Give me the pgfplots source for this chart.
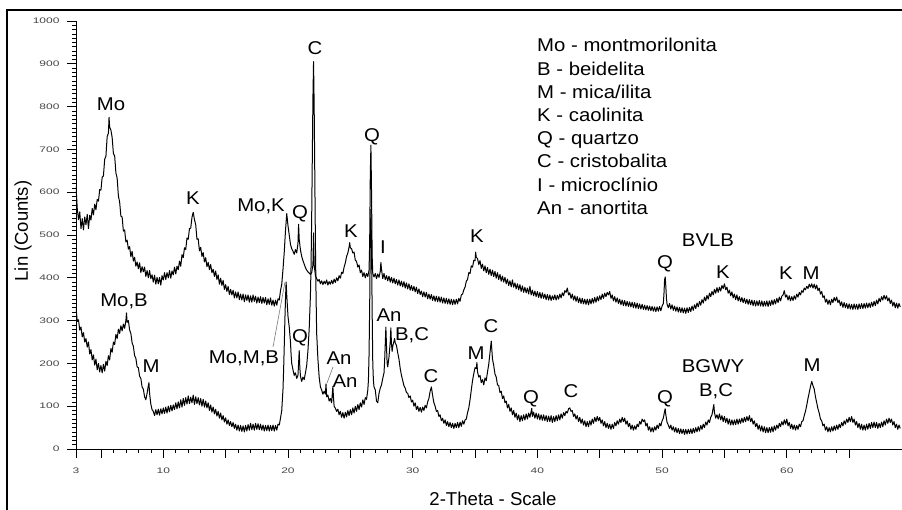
\documentclass[border=0pt]{standalone}
\usepackage{fontspec}
\setmainfont{Liberation Sans}
\usepackage{pgfplots}
\pgfplotsset{compat=1.18}
\newfontfamily\labfont[FakeStretch=1.1]{Liberation Sans}
\newfontfamily\tickfont[FakeStretch=1.5]{Liberation Sans}
\definecolor{tickgray}{RGB}{70,70,70}
\definecolor{leadgray}{RGB}{120,120,120}
\tikzset{lab/.style={font=\labfont\fontsize{18.5}{22}\selectfont, inner sep=0pt, anchor=base}}

\begin{document}
\begin{tikzpicture}
\useasboundingbox (0,0) rectangle (902pt,509pt);
\begin{axis}[
  at={(76pt,60pt)}, anchor=south west,
  scale only axis, width=825.5pt, height=428pt,
  xmin=3, xmax=69.2, ymin=0, ymax=1000,
  axis x line*=bottom, axis y line*=left,
  axis line style={black, line width=0.8pt, -},
  xtick={5,10,...,65},
  xticklabels={,10,,20,,30,,40,,50,,60,},
  extra x ticks={3}, extra x tick labels={3},
  minor x tick num=4,
  ytick={0,100,...,1000}, minor y tick num=9,
  tick align=outside, major tick length=9pt, minor tick length=4pt,
  tick style={black, line width=0.6pt},
  /pgf/number format/assume math mode=true,
  /pgf/number format/1000 sep={},
  ticklabel style={font=\tickfont\fontsize{8}{9}\selectfont, text=tickgray},
  xticklabel style={yshift=-6pt},
  yticklabel style={xshift=-4pt},
]
% BVLB
\addplot[black, line width=1.0pt, line join=round, mark=none] coordinates {
(3.0,615)(3.1,562)(3.2,536)(3.3,554)(3.4,515)(3.5,538)(3.6,512)(3.7,542)(3.8,524)(3.9,548)
(4.0,515)(4.1,546)(4.2,535)(4.3,562)(4.4,547)(4.5,572)(4.6,559)(4.7,583)(4.8,579)(4.9,606)
(5.0,605)(5.1,635)(5.2,638)(5.3,677)(5.4,684)(5.5,730)(5.6,738)(5.65,775)(5.7,752)(5.8,745)(5.9,728)
(6.0,690)(6.1,685)(6.2,645)(6.3,633)(6.4,591)(6.5,577)(6.6,544)(6.7,542)(6.8,509)(6.9,512)
(7.0,484)(7.1,488)(7.2,467)(7.3,473)(7.4,449)(7.5,462)(7.6,439)(7.7,448)(7.8,427)(7.9,437)
(8.0,421)(8.1,435)(8.2,412)(8.3,426)(8.4,414)(8.5,425)(8.6,403)(8.7,417)(8.8,400)(8.9,417)
(9.0,398)(9.1,407)(9.2,390)(9.3,406)(9.4,385)(9.5,401)(9.6,386)(9.7,401)(9.8,383)(9.9,405)
(10.0,395)(10.1,412)(10.2,396)(10.3,412)(10.4,400)(10.5,417)(10.6,399)(10.7,416)(10.8,407)(10.9,425)
(11.0,409)(11.1,427)(11.2,419)(11.3,439)(11.4,427)(11.5,454)(11.6,447)(11.7,470)(11.8,466)(11.9,493)
(12.0,490)(12.1,515)(12.2,516)(12.3,541)(12.4,553)(12.5,536)(12.6,524)(12.7,490)(12.8,491)(12.9,463)
(13.0,471)(13.1,450)(13.2,459)(13.3,437)(13.4,447)(13.5,426)(13.6,436)(13.7,419)(13.8,431)(13.9,412)
(14.0,420)(14.1,403)(14.2,416)(14.3,396)(14.4,407)(14.5,385)(14.6,399)(14.7,382)(14.8,394)(14.9,373)
(15.0,384)(15.1,368)(15.2,380)(15.3,361)(15.4,373)(15.5,360)(15.6,371)(15.7,353)(15.8,367)(15.9,353)
(16.0,367)(16.1,349)(16.2,362)(16.3,348)(16.4,362)(16.5,344)(16.6,360)(16.7,347)(16.8,360)(16.9,343)
(17.0,358)(17.1,343)(17.2,360)(17.3,345)(17.4,357)(17.5,341)(17.6,355)(17.7,342)(17.8,356)(17.9,340)
(18.0,354)(18.1,341)(18.2,354)(18.3,337)(18.4,351)(18.5,338)(18.6,353)(18.7,336)(18.8,348)(18.9,334)
(19.0,348)(19.1,336)(19.2,351)(19.3,348)(19.4,370)(19.5,385)(19.6,420)(19.7,460)(19.8,510)(19.9,550)
(20.0,522)(20.1,500)(20.2,478)(20.3,468)(20.4,462)(20.5,455)(20.6,466)(20.7,458)(20.8,480)(20.85,525)(20.9,490)
(21.0,465)(21.1,450)(21.2,440)(21.3,432)(21.4,424)(21.5,418)(21.6,414)(21.7,411)(21.8,408)(21.9,412)
(22.0,430)(22.05,505)(22.1,430)(22.2,405)(22.3,398)(22.4,392)(22.5,396)(22.6,386)(22.7,393)(22.8,384)(22.9,392)
(23.0,386)(23.1,395)(23.2,383)(23.3,391)(23.4,385)(23.5,394)(23.6,386)(23.7,397)(23.8,389)(23.9,400)
(24.0,393)(24.1,405)(24.2,399)(24.3,413)(24.4,410)(24.5,425)(24.6,435)(24.7,450)(24.8,458)(24.9,472)(24.95,482)
(25.0,470)(25.1,468)(25.2,458)(25.3,460)(25.4,441)(25.5,438)(25.6,425)(25.7,430)(25.8,412)(25.9,418)
(26.0,403)(26.1,412)(26.2,400)(26.3,410)(26.4,403)(26.5,418)(26.55,480)(26.6,640)(26.65,710)(26.7,600)(26.75,450)(26.8,410)(26.9,402)
(27.0,410)(27.1,398)(27.2,409)(27.3,401)(27.4,415)(27.45,436)(27.5,420)(27.6,398)(27.7,410)(27.8,396)(27.9,405)
(28.0,393)(28.1,404)(28.2,390)(28.3,401)(28.4,388)(28.5,399)(28.6,386)(28.7,396)(28.8,383)(28.9,395)
(29.0,381)(29.1,392)(29.2,379)(29.3,391)(29.4,376)(29.5,388)(29.6,374)(29.7,386)(29.8,371)(29.9,382)
(30.0,370)(30.1,380)(30.2,367)(30.3,378)(30.4,363)(30.5,374)(30.6,361)(30.7,369)(30.8,356)(30.9,367)
(31.0,355)(31.1,366)(31.2,351)(31.3,362)(31.4,350)(31.5,361)(31.6,347)(31.7,358)(31.8,345)(31.9,357)
(32.0,344)(32.1,356)(32.2,343)(32.3,355)(32.4,341)(32.5,353)(32.6,340)(32.7,352)(32.8,339)(32.9,351)
(33.0,338)(33.1,350)(33.2,337)(33.3,349)(33.4,338)(33.5,350)(33.6,339)(33.7,352)(33.8,345)(33.9,360)
(34.0,362)(34.1,372)(34.2,378)(34.3,392)(34.4,396)(34.5,412)(34.6,410)(34.7,428)(34.8,425)(34.9,441)
(35.0,440)(35.05,460)(35.1,448)(35.2,445)(35.3,431)(35.4,440)(35.5,422)(35.6,432)(35.7,416)(35.8,428)(35.9,412)
(36.0,424)(36.1,408)(36.2,420)(36.3,405)(36.4,418)(36.5,403)(36.6,415)(36.7,399)(36.8,412)(36.9,396)
(37.0,408)(37.1,392)(37.2,404)(37.3,390)(37.4,401)(37.5,386)(37.6,397)(37.7,382)(37.8,393)(37.9,379)
(38.0,395)(38.1,378)(38.2,388)(38.3,374)(38.4,386)(38.5,372)(38.6,384)(38.7,368)(38.8,381)(38.9,366)
(39.0,378)(39.1,365)(39.2,376)(39.3,362)(39.4,380)(39.5,360)(39.6,371)(39.7,358)(39.8,369)(39.9,356)
(40.0,368)(40.1,354)(40.2,366)(40.3,352)(40.4,365)(40.5,352)(40.6,362)(40.7,349)(40.8,361)(40.9,348)
(41.0,360)(41.1,347)(41.2,358)(41.3,349)(41.4,360)(41.5,348)(41.6,359)(41.7,350)(41.8,362)(41.9,353)
(42.0,365)(42.1,358)(42.2,370)(42.3,366)(42.4,376)(42.5,360)(42.6,365)(42.7,352)(42.8,362)(42.9,348)
(43.0,358)(43.1,345)(43.2,356)(43.3,342)(43.4,353)(43.5,340)(43.6,352)(43.7,339)(43.8,350)(43.9,338)
(44.0,350)(44.1,337)(44.2,350)(44.3,339)(44.4,352)(44.5,341)(44.6,354)(44.7,343)(44.8,356)(44.9,346)
(45.0,358)(45.1,349)(45.2,362)(45.3,352)(45.4,364)(45.5,356)(45.6,366)(45.7,360)(45.8,368)(45.9,352)
(46.0,360)(46.1,346)(46.2,356)(46.3,343)(46.4,353)(46.5,340)(46.6,350)(46.7,337)(46.8,348)(46.9,335)
(47.0,347)(47.1,334)(47.2,345)(47.3,333)(47.4,344)(47.5,332)(47.6,343)(47.7,330)(47.8,342)(47.9,329)
(48.0,341)(48.1,328)(48.2,339)(48.3,327)(48.4,338)(48.5,326)(48.6,336)(48.7,325)(48.8,335)(48.9,324)
(49.0,334)(49.1,323)(49.2,333)(49.3,322)(49.4,332)(49.5,321)(49.6,332)(49.7,322)(49.8,333)(49.9,323)
(50.0,334)(50.1,340)(50.15,362)(50.2,395)(50.25,402)(50.3,380)(50.35,352)(50.4,338)(50.5,330)(50.6,340)(50.7,327)(50.8,337)(50.9,324)
(51.0,334)(51.1,322)(51.2,332)(51.3,320)(51.4,331)(51.5,319)(51.6,330)(51.7,318)(51.8,329)(51.9,317)
(52.0,330)(52.1,319)(52.2,331)(52.3,321)(52.4,334)(52.5,324)(52.6,337)(52.7,328)(52.8,341)(52.9,332)
(53.0,345)(53.1,336)(53.2,349)(53.3,341)(53.4,355)(53.5,346)(53.6,359)(53.7,350)(53.8,364)(53.9,356)
(54.0,368)(54.1,360)(54.2,373)(54.3,364)(54.4,377)(54.5,366)(54.6,378)(54.7,369)(54.8,382)(54.9,375)
(55.0,386)(55.1,372)(55.2,378)(55.3,364)(55.4,371)(55.5,358)(55.6,367)(55.7,353)(55.8,362)(55.9,349)
(56.0,360)(56.1,346)(56.2,356)(56.3,344)(56.4,354)(56.5,342)(56.6,352)(56.7,340)(56.8,350)(56.9,338)
(57.0,349)(57.1,337)(57.2,348)(57.3,335)(57.4,347)(57.5,334)(57.6,346)(57.7,335)(57.8,347)(57.9,334)
(58.0,346)(58.1,333)(58.2,345)(58.3,334)(58.4,346)(58.5,333)(58.6,346)(58.7,335)(58.8,348)(58.9,337)
(59.0,349)(59.1,339)(59.2,352)(59.3,342)(59.4,355)(59.5,346)(59.6,357)(59.7,360)(59.8,370)(59.9,355)
(60.0,360)(60.1,348)(60.2,358)(60.3,346)(60.4,356)(60.5,347)(60.6,358)(60.7,350)(60.8,362)(60.9,355)
(61.0,366)(61.1,360)(61.2,370)(61.3,366)(61.4,376)(61.5,372)(61.6,380)(61.7,375)(61.8,385)(61.9,378)
(62.0,386)(62.1,376)(62.2,385)(62.3,374)(62.4,383)(62.5,370)(62.6,376)(62.7,362)(62.8,368)(62.9,354)
(63.0,358)(63.1,343)(63.2,350)(63.3,338)(63.4,348)(63.5,337)(63.6,350)(63.7,342)(63.8,354)(63.9,346)
(64.0,355)(64.1,342)(64.2,348)(64.3,335)(64.4,344)(64.5,331)(64.6,342)(64.7,330)(64.8,340)(64.9,328)
(65.0,339)(65.1,327)(65.2,338)(65.3,326)(65.4,339)(65.5,327)(65.6,338)(65.7,326)(65.8,339)(65.9,328)
(66.0,340)(66.1,328)(66.2,340)(66.3,329)(66.4,341)(66.5,330)(66.6,341)(66.7,331)(66.8,343)(66.9,333)
(67.0,345)(67.1,335)(67.2,348)(67.3,339)(67.4,352)(67.5,344)(67.6,356)(67.7,348)(67.8,359)(67.9,350)
(68.0,358)(68.1,346)(68.2,353)(68.3,340)(68.4,348)(68.5,334)(68.6,343)(68.7,330)(68.8,341)(68.9,329)
(69.0,340)(69.1,332)
};
% BGWY
\addplot[black, line width=1.0pt, line join=round, mark=none] coordinates {
(3.0,332)(3.1,298)(3.2,302)(3.3,278)(3.4,285)(3.5,262)(3.6,272)(3.7,250)(3.8,258)(3.9,238)
(4.0,250)(4.1,222)(4.2,232)(4.3,208)(4.4,220)(4.5,196)(4.6,210)(4.7,185)(4.8,200)(4.9,180)
(5.0,195)(5.1,178)(5.2,198)(5.3,182)(5.4,205)(5.5,195)(5.6,218)(5.7,208)(5.8,235)(5.9,226)
(6.0,250)(6.1,244)(6.2,268)(6.3,258)(6.4,280)(6.5,270)(6.6,288)(6.7,276)(6.8,292)(6.9,282)
(7.0,300)(7.05,318)(7.1,296)(7.2,300)(7.3,278)(7.4,270)(7.5,248)(7.6,240)(7.7,218)(7.8,212)(7.9,192)
(8.0,190)(8.1,170)(8.2,165)(8.3,145)(8.4,140)(8.5,122)(8.6,115)(8.7,130)(8.8,148)(8.85,155)(8.9,130)
(9.0,105)(9.1,92)(9.2,88)(9.3,78)(9.4,92)(9.5,80)(9.6,93)(9.7,79)(9.8,94)(9.9,82)
(10.0,96)(10.1,83)(10.2,98)(10.3,84)(10.4,100)(10.5,87)(10.6,102)(10.7,89)(10.8,103)(10.9,92)
(11.0,108)(11.1,94)(11.2,110)(11.3,96)(11.4,115)(11.5,98)(11.6,118)(11.7,102)(11.8,120)(11.9,105)
(12.0,124)(12.1,106)(12.2,121)(12.3,108)(12.4,126)(12.5,104)(12.6,122)(12.7,106)(12.8,120)(12.9,103)
(13.0,118)(13.1,100)(13.2,116)(13.3,98)(13.4,112)(13.5,96)(13.6,108)(13.7,90)(13.8,103)(13.9,86)
(14.0,98)(14.1,82)(14.2,93)(14.3,77)(14.4,88)(14.5,72)(14.6,84)(14.7,68)(14.8,78)(14.9,63)
(15.0,73)(15.1,58)(15.2,68)(15.3,55)(15.4,64)(15.5,52)(15.6,62)(15.7,48)(15.8,58)(15.9,44)
(16.0,56)(16.1,42)(16.2,55)(16.3,41)(16.4,54)(16.5,40)(16.6,55)(16.7,42)(16.8,57)(16.9,44)
(17.0,60)(17.1,45)(17.2,58)(17.3,44)(17.4,60)(17.5,46)(17.6,59)(17.7,45)(17.8,58)(17.9,44)
(18.0,56)(18.1,42)(18.2,55)(18.3,43)(18.4,56)(18.5,42)(18.6,55)(18.7,43)(18.8,56)(18.9,42)
(19.0,55)(19.1,44)(19.2,58)(19.3,56)(19.4,72)(19.5,90)(19.6,140)(19.65,185)(19.7,240)(19.75,300)(19.8,350)(19.85,390)(19.9,360)(19.95,335)
(20.0,310)(20.1,285)(20.2,250)(20.25,220)(20.3,200)(20.4,185)(20.5,172)(20.6,178)(20.7,165)(20.8,172)(20.85,200)(20.9,230)(20.95,190)
(21.0,170)(21.1,158)(21.2,168)(21.3,162)(21.4,178)(21.5,195)(21.6,230)(21.7,280)(21.8,360)(21.85,430)(21.9,540)(21.95,680)
(22.0,820)(22.05,905)(22.1,800)(22.15,640)(22.2,480)(22.25,360)(22.3,270)(22.4,210)(22.5,168)(22.6,145)(22.7,138)(22.8,128)(22.9,135)
(23.0,128)(23.05,152)(23.1,122)(23.2,126)(23.3,112)(23.4,118)(23.5,108)(23.6,146)(23.65,120)(23.7,100)(23.8,95)(23.9,88)
(24.0,93)(24.1,80)(24.2,88)(24.3,74)(24.4,85)(24.5,72)(24.6,86)(24.7,75)(24.8,90)(24.9,78)
(25.0,92)(25.1,80)(25.2,96)(25.3,84)(25.4,100)(25.5,88)(25.6,104)(25.7,92)(25.8,108)(25.9,98)
(26.0,115)(26.1,104)(26.2,120)(26.3,116)(26.4,138)(26.45,160)(26.5,220)(26.55,330)(26.6,480)(26.65,560)(26.7,470)(26.75,320)(26.8,200)(26.85,160)(26.9,145)
(27.0,138)(27.1,112)(27.2,108)(27.3,130)(27.4,142)(27.5,150)(27.6,165)(27.7,178)(27.75,205)(27.8,245)(27.85,285)(27.9,240)(27.95,200)
(28.0,192)(28.1,215)(28.2,250)(28.25,283)(28.3,245)(28.35,228)(28.4,240)(28.5,252)(28.55,258)(28.6,248)(28.7,242)(28.8,225)(28.9,210)
(29.0,188)(29.1,172)(29.2,160)(29.3,148)(29.4,142)(29.5,132)(29.6,130)(29.7,120)(29.8,124)(29.9,110)
(30.0,114)(30.1,100)(30.2,108)(30.3,92)(30.4,100)(30.5,88)(30.6,97)(30.7,86)(30.8,98)(30.9,90)
(31.0,102)(31.1,96)(31.2,110)(31.3,118)(31.4,135)(31.5,145)(31.6,125)(31.7,108)(31.8,100)(31.9,88)
(32.0,90)(32.1,76)(32.2,80)(32.3,66)(32.4,72)(32.5,60)(32.6,68)(32.7,55)(32.8,64)(32.9,52)
(33.0,62)(33.1,50)(33.2,60)(33.3,48)(33.4,60)(33.5,50)(33.6,62)(33.7,50)(33.8,63)(33.9,53)
(34.0,66)(34.1,58)(34.2,68)(34.3,70)(34.4,85)(34.5,96)(34.6,115)(34.7,138)(34.8,160)(34.9,176)
(35.0,190)(35.1,188)(35.15,202)(35.2,180)(35.3,168)(35.4,172)(35.5,155)(35.6,162)(35.7,150)(35.8,166)(35.9,160)
(36.0,180)(36.1,198)(36.2,225)(36.3,252)(36.4,210)(36.5,195)(36.6,175)(36.7,168)(36.8,150)(36.9,148)
(37.0,132)(37.1,135)(37.2,118)(37.3,124)(37.4,108)(37.5,112)(37.6,96)(37.7,104)(37.8,88)(37.9,96)
(38.0,80)(38.1,90)(38.2,74)(38.3,84)(38.4,68)(38.5,80)(38.6,64)(38.7,78)(38.8,66)(38.9,80)
(39.0,68)(39.1,82)(39.2,70)(39.3,84)(39.4,74)(39.5,88)(39.55,95)(39.6,76)(39.7,86)(39.8,72)(39.9,84)
(40.0,70)(40.1,82)(40.2,68)(40.3,80)(40.4,67)(40.5,80)(40.6,66)(40.7,78)(40.8,64)(40.9,77)
(41.0,64)(41.1,78)(41.2,62)(41.3,76)(41.4,64)(41.5,78)(41.6,66)(41.7,80)(41.8,68)(41.9,82)
(42.0,72)(42.1,85)(42.2,78)(42.3,88)(42.4,84)(42.5,94)(42.6,96)(42.7,88)(42.8,90)(42.9,76)
(43.0,82)(43.1,70)(43.2,78)(43.3,64)(43.4,74)(43.5,60)(43.6,70)(43.7,56)(43.8,66)(43.9,52)
(44.0,64)(44.1,52)(44.2,66)(44.3,56)(44.4,70)(44.5,60)(44.6,74)(44.7,64)(44.8,76)(44.9,66)
(45.0,74)(45.1,60)(45.2,68)(45.3,54)(45.4,64)(45.5,50)(45.6,60)(45.7,48)(45.8,58)(45.9,46)
(46.0,58)(46.1,48)(46.2,62)(46.3,54)(46.4,66)(46.5,58)(46.6,70)(46.7,62)(46.8,74)(46.9,64)
(47.0,72)(47.1,58)(47.2,66)(47.3,52)(47.4,60)(47.5,46)(47.6,56)(47.7,44)(47.8,54)(47.9,46)
(48.0,58)(48.1,52)(48.2,64)(48.3,58)(48.4,70)(48.5,64)(48.6,68)(48.7,54)(48.8,60)(48.9,44)
(49.0,52)(49.1,40)(49.2,50)(49.3,40)(49.4,52)(49.5,44)(49.6,56)(49.7,48)(49.8,60)(49.9,54)
(50.0,66)(50.1,72)(50.2,88)(50.25,94)(50.3,80)(50.4,62)(50.5,56)(50.6,48)(50.7,56)(50.8,44)(50.9,52)
(51.0,40)(51.1,50)(51.2,38)(51.3,48)(51.4,36)(51.5,47)(51.6,36)(51.7,46)(51.8,34)(51.9,46)
(52.0,35)(52.1,46)(52.2,36)(52.3,47)(52.4,36)(52.5,48)(52.6,38)(52.7,50)(52.8,40)(52.9,52)
(53.0,42)(53.1,55)(53.2,46)(53.3,58)(53.4,50)(53.5,63)(53.6,56)(53.7,68)(53.8,62)(53.9,74)
(54.0,80)(54.1,96)(54.15,104)(54.2,85)(54.3,72)(54.4,80)(54.5,70)(54.6,82)(54.7,68)(54.8,78)(54.9,64)
(55.0,76)(55.1,62)(55.2,72)(55.3,58)(55.4,70)(55.5,56)(55.6,68)(55.7,56)(55.8,68)(55.9,57)
(56.0,70)(56.1,58)(56.2,70)(56.3,60)(56.4,72)(56.5,62)(56.6,74)(56.7,64)(56.8,76)(56.9,66)
(57.0,78)(57.1,64)(57.2,72)(57.3,58)(57.4,66)(57.5,52)(57.6,60)(57.7,46)(57.8,56)(57.9,42)
(58.0,54)(58.1,40)(58.2,52)(58.3,38)(58.4,50)(58.5,38)(58.6,50)(58.7,39)(58.8,52)(58.9,40)
(59.0,54)(59.1,44)(59.2,56)(59.3,48)(59.4,60)(59.5,52)(59.6,64)(59.7,56)(59.8,68)(59.9,58)
(60.0,70)(60.1,54)(60.2,62)(60.3,48)(60.4,58)(60.5,46)(60.6,56)(60.7,44)(60.8,55)(60.9,46)
(61.0,58)(61.1,52)(61.2,64)(61.3,66)(61.4,78)(61.5,88)(61.6,102)(61.7,118)(61.8,132)(61.9,146)
(62.0,158)(62.1,148)(62.2,140)(62.3,122)(62.4,108)(62.5,94)(62.6,84)(62.7,70)(62.8,66)(62.9,54)
(63.0,58)(63.1,44)(63.2,52)(63.3,40)(63.4,50)(63.5,40)(63.6,52)(63.7,42)(63.8,54)(63.9,44)
(64.0,56)(64.1,46)(64.2,58)(64.3,50)(64.4,62)(64.5,54)(64.6,66)(64.7,58)(64.8,70)(64.9,62)
(65.0,74)(65.1,64)(65.2,76)(65.3,62)(65.4,70)(65.5,56)(65.6,64)(65.7,50)(65.8,60)(65.9,46)
(66.0,58)(66.1,44)(66.2,56)(66.3,44)(66.4,58)(66.5,46)(66.6,60)(66.7,48)(66.8,62)(66.9,50)
(67.0,63)(67.1,50)(67.2,62)(67.3,48)(67.4,60)(67.5,50)(67.6,63)(67.7,52)(67.8,66)(67.9,56)
(68.0,70)(68.1,60)(68.2,72)(68.3,62)(68.4,70)(68.5,56)(68.6,64)(68.7,50)(68.8,58)(68.9,46)
(69.0,56)(69.1,48)
};
\end{axis}
\begin{scope}[x=1pt,y=1pt]
% outer frame
\draw[line width=2.5pt] (7,-5) -- (7,499) -- (910,499);
% axis titles
\node[rotate=90, font=\fontsize{18.5}{22}\selectfont, inner sep=0pt] at (23,278) {Lin (Counts)};
\node[font=\fontsize{18.6}{22}\selectfont, inner sep=0pt, anchor=base] at (493,4) {2-Theta - Scale};
% phase key
\begin{scope}[every node/.style={font=\labfont\fontsize{18.5}{22}\selectfont, inner sep=0pt, anchor=base west}]
\node at (537,457.0) {Mo - montmorilonita};
\node at (537,433.8) {B - beidelita};
\node at (537,410.6) {M - mica/ilita};
\node at (537,387.4) {K - caolinita};
\node at (537,364.2) {Q - quartzo};
\node at (537,341.0) {C - cristobalita};
\node at (537,317.8) {I - microclínio};
\node at (537,294.6) {An - anortita};
\end{scope}
% BVLB peaks
\node[lab] at (111,398.2) {Mo};
\node[lab] at (193,304.2) {K};
\node[lab] at (261,297.2) {Mo,K};
\node[lab] at (300,290.2) {Q};
\node[lab] at (315,454.2) {C};
\node[lab] at (351,271.2) {K};
\node[lab] at (372,367.2) {Q};
\node[lab] at (383,255.2) {I};
\node[lab] at (477,266.2) {K};
\node[lab] at (708,262.2) {BVLB};
\node[lab] at (665,240.2) {Q};
\node[lab] at (723,230.2) {K};
\node[lab] at (786,229.2) {K};
\node[lab] at (811,229.2) {M};
% BGWY peaks
\node[lab] at (124,202) {Mo,B};
\node[lab] at (151,136.2) {M};
\node[lab] at (244,145.5) {Mo,M,B};
\draw[leadgray, line width=0.6pt] (273,162) -- (285,227);
\node[lab] at (300,166.2) {Q};
\node[lab] at (339,144.2) {An};
\node[lab] at (345,121.2) {An};
\draw[leadgray, line width=0.6pt] (327,126) -- (333,142);
\node[lab] at (389,187.2) {An};
\node[lab] at (412,168.7) {B,C};
\node[lab] at (431,126.2) {C};
\node[lab] at (476,149.7) {M};
\node[lab] at (491,176.2) {C};
\node[lab] at (531,105.7) {Q};
\node[lab] at (571,111.2) {C};
\node[lab] at (665,105.2) {Q};
\node[lab] at (713,136.2) {BGWY};
\node[lab] at (716,112.2) {B,C};
\node[lab] at (812,137.2) {M};
\end{scope}
\end{tikzpicture}
\end{document}
